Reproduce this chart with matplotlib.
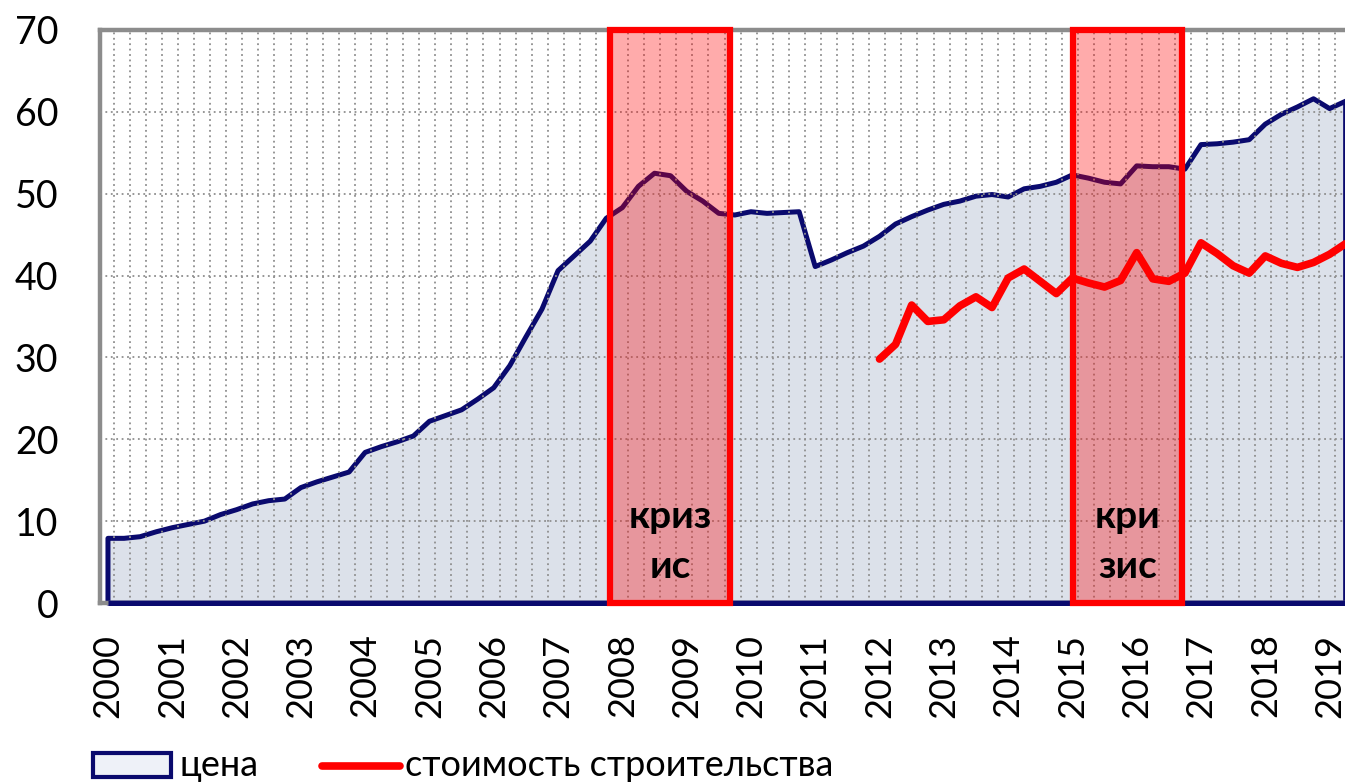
import numpy as np
import matplotlib
matplotlib.use("Agg")
import matplotlib.pyplot as plt
from matplotlib.ticker import MultipleLocator, FixedLocator
from matplotlib.patches import Rectangle
from matplotlib.lines import Line2D

plt.rcParams["font.family"] = ["Lato", "DejaVu Sans"]

# квартальные данные, 2000 Q1 .. 2019 Q2
price = [
    7.9, 7.9, 8.1, 8.7,
    9.2, 9.6, 10.0, 10.8,
    11.4, 12.1, 12.5, 12.7,
    14.1, 14.8, 15.4, 16.0,
    18.4, 19.1, 19.7, 20.4,
    22.2, 22.9, 23.6, 24.9,
    26.3, 29.0, 32.5, 35.9,
    40.6, 42.4, 44.2, 47.0,
    48.3, 50.9, 52.5, 52.2,
    50.3, 49.1, 47.6, 47.4,
    47.8, 47.6, 47.7, 47.8,
    41.1, 41.9, 42.8, 43.6,
    44.8, 46.3, 47.2, 48.0,
    48.7, 49.1, 49.7, 49.9,
    49.6, 50.6, 50.9, 51.4,
    52.3, 51.9, 51.4, 51.2,
    53.4, 53.3, 53.3, 53.0,
    56.0, 56.1, 56.3, 56.6,
    58.5, 59.7, 60.6, 61.6,
    60.4, 61.3,
]
# стоимость строительства, 2012 Q1 .. 2019 Q2
cost = [
    29.8, 31.6, 36.4, 34.4,
    34.6, 36.3, 37.4, 36.1,
    39.7, 40.8, 39.3, 37.8,
    39.7, 39.1, 38.6, 39.4,
    42.8, 39.6, 39.3, 40.3,
    44.0, 42.7, 41.2, 40.3,
    42.4, 41.5, 41.0, 41.6,
    42.6, 43.9,
]
price_start, cost_start = 2000, 2012
years = list(range(2000, 2020))
crises = [(2007.81, 2009.67, "криз", "ис"), (2015.01, 2016.70, "кри", "зис")]

NAVY = "#0a0a6e"
FILL = "#dce1ea"
RED = "#ff0000"
GRID = "#8f8f8f"

x_price = price_start + np.arange(len(price)) / 4
x_cost = cost_start + np.arange(len(cost)) / 4

W, H = 1345, 784
fig = plt.figure(figsize=(W / 100, H / 100), dpi=100)
ax = fig.add_axes([100 / W, 1 - 603 / H, 1 - 100 / W, (603 - 30) / H])
ax.set_xlim(1999.876, 2019.24)
ax.set_ylim(0, 70)

for s in ("left", "top", "bottom"):
    ax.spines[s].set_color("#8c8c8c")
    ax.spines[s].set_linewidth(3.2)
ax.spines["right"].set_visible(False)

# площадь "цена"
ax.fill(np.r_[x_price[0], x_price, x_price[-1]], np.r_[0, price, 0],
        fc=FILL, ec=NAVY, lw=3.6, zorder=1, joinstyle="round", clip_on=False)
# нижняя кромка площади поверх серой оси
ax.plot([x_price[0], x_price[-1]], [0, 0], color=NAVY, lw=3.6, zorder=3,
        clip_on=False, solid_capstyle="butt")
ax.plot(x_cost, cost, color=RED, lw=5.5, zorder=3, solid_joinstyle="round",
        solid_capstyle="round")

# сетка
ax.yaxis.set_major_locator(MultipleLocator(10))
ax.xaxis.set_major_locator(FixedLocator(years))
ax.xaxis.set_minor_locator(MultipleLocator(0.25, offset=0.09))
ax.set_axisbelow(False)
ax.grid(axis="y", which="major", color=GRID, ls=(0, (1, 2)), lw=1.3)
ax.grid(axis="x", which="minor", color=GRID, ls=(0, (1, 2)), lw=1.3)
ax.tick_params(which="both", length=0)
ax.tick_params(axis="y", labelsize=27, pad=30)
ax.tick_params(axis="x", labelsize=26, pad=22, labelrotation=90)

# кризисы
for x0, x1, t1, t2 in crises:
    ax.add_patch(Rectangle((x0, 0), x1 - x0, 70, fc=RED, alpha=0.33, ec="none", zorder=4))
    ax.add_patch(Rectangle((x0, 0), x1 - x0, 70, fc="none", ec=RED, lw=4.5, zorder=5,
                           clip_on=False))
    xc = (x0 + x1) / 2
    ax.text(xc, 10.6, t1, ha="center", va="center", fontsize=28, fontweight="bold", zorder=6)
    ax.text(xc, 4.4, t2, ha="center", va="center", fontsize=28, fontweight="bold", zorder=6)

# легенда
fig.patches.append(Rectangle((93 / W, 1 - 777 / H), 78 / W, 24 / H, transform=fig.transFigure,
                             fc="#eef1f8", ec=NAVY, lw=3))
fig.text(179 / W, 1 - 765 / H, "цена", fontsize=26, va="center", ha="left")
fig.lines.append(Line2D([322 / W, 400 / W], [1 - 766 / H] * 2, transform=fig.transFigure,
                        color=RED, lw=5.5, solid_capstyle="round"))
fig.text(405 / W, 1 - 765 / H, "стоимость строительства", fontsize=26, va="center", ha="left")

fig.savefig("out.png", dpi=100, facecolor="white")
